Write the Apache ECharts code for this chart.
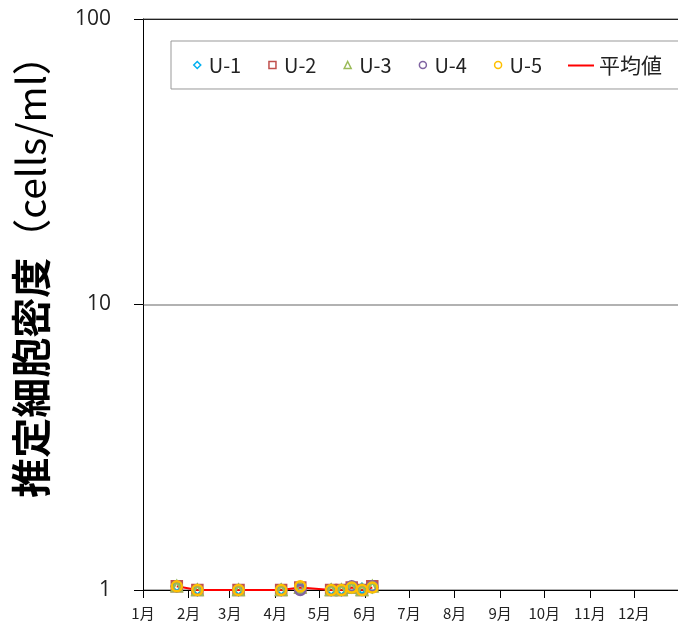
<!DOCTYPE html>
<html>
<head>
<meta charset="utf-8">
<script src="https://cdn.jsdelivr.net/npm/echarts@6/dist/echarts.min.js"></script>
<style>html,body{margin:0;padding:0;background:#fff;}#c{width:678px;height:625px;}</style>
</head>
<body>
<div id="c"></div>
<script>
const dates = ['2023-01-24','2023-02-07','2023-03-07','2023-04-05','2023-04-18','2023-05-09','2023-05-16','2023-05-23','2023-05-30','2023-06-06'];
const u1 = [1.03, 1.0, 1.0, 1.0, 1.02, 1.0, 1.0, 1.02, 1.01, 1.02];
const u2 = [1.03, 1.0, 1.0, 1.0, 1.02, 1.0, 1.0, 1.02, 1.0, 1.03];
const u3 = [1.03, 1.0, 1.0, 1.0, 1.02, 1.0, 1.0, 1.02, 1.0, 1.03];
const u4 = [1.03, 1.0, 1.0, 1.0, 1.0, 1.0, 1.0, 1.03, 1.0, 1.03];
const u5 = [1.03, 1.0, 1.0, 1.0, 1.03, 1.0, 1.0, 1.02, 1.0, 1.02];
const mean = [1.03, 1.0, 1.0, 1.0, 1.02, 1.0, 1.0, 1.02, 1.0, 1.02];
const names = ['U-1','U-2','U-3','U-4','U-5','平均値'];
const colors = ['#00B0F0','#C0504D','#9BBB59','#8064A2','#FFC000','#FF0000'];
const symbols = ['diamond','rect','triangle','circle','circle'];
const yTitleMain = '推定細胞密度';
const yTitleUnit = '（cells/ml）';

const pair = arr => dates.map((d,i)=>[d, arr[i]]);
const uData = [u1,u2,u3,u4,u5];
const font = '"Noto Sans CJK JP", "Noto Sans", sans-serif';
const numFont = '"Open Sans", "Noto Sans", sans-serif';

const series = uData.map((arr,i)=>({
  name: names[i], type: 'scatter', data: pair(arr),
  symbol: symbols[i], symbolSize: 10, z: 3,
  itemStyle: {color: 'rgba(255,255,255,0)', borderColor: colors[i], borderWidth: 2.5, opacity: 1}
}));
series.push({
  name: names[5], type: 'line', data: pair(mean), symbol: 'none', z: 2,
  lineStyle: {color: colors[5], width: 2}, itemStyle: {color: colors[5]}
});

const legendText = {fontSize: 20, color: '#222', fontFamily: font, padding: [0, 0, 0, 3]};
const chart = echarts.init(document.getElementById('c'));
chart.setOption({
  animation: false,
  textStyle: {fontFamily: font},
  grid: {left: 143, right: -6, top: 19, bottom: 35},
  legend: [{
    left: 171, top: 41, width: 440,
    data: names.slice(0,5),
    itemWidth: 7, itemHeight: 7, itemGap: 27,
    itemStyle: {borderWidth: 1.5},
    borderColor: '#999', borderWidth: 1,
    padding: [14, 140, 14, 22],
    textStyle: legendText
  },{
    left: 568, top: 41,
    data: [{name: names[5], icon: 'rect'}],
    itemWidth: 26, itemHeight: 2,
    padding: [14, 0, 14, 0],
    textStyle: {fontSize: 21, color: '#222', fontFamily: font}
  }],
  xAxis: [{
    type: 'time',
    min: '2023-01-01', max: '2023-12-31',
    splitNumber: 12,
    minInterval: 28*86400000, maxInterval: 31*86400000,
    axisLine: {lineStyle: {color: '#000', width: 1}},
    axisTick: {show: true, length: 8, lineStyle: {color: '#000'}},
    splitLine: {show: false},
    axisLabel: {
      fontSize: 15, color: '#222', margin: 16, fontFamily: font,
      formatter: v => (new Date(v).getMonth()+1) + '月'
    }
  },{
    type: 'time', position: 'top',
    min: '2023-01-01', max: '2023-12-31',
    axisLine: {show: true, lineStyle: {color: '#222'}},
    axisTick: {show: false}, axisLabel: {show: false}, splitLine: {show: false}
  }],
  yAxis: {
    type: 'log', logBase: 10, min: 1, max: 100,
    name: '{a|' + yTitleMain + '}{b|' + yTitleUnit + '}',
    nameLocation: 'middle', nameGap: 92, nameRotate: 90,
    nameTextStyle: {
      fontSize: 40, color: '#000', fontFamily: font,
      rich: {
        a: {fontSize: 40, fontWeight: 'bold', color: '#000', fontFamily: font, padding: [0, 0, 0, 75]},
        b: {fontSize: 39, color: '#000', fontFamily: font}
      }
    },
    axisLine: {show: true, lineStyle: {color: '#000'}},
    axisTick: {show: true, length: 9, lineStyle: {color: '#000'}},
    minorTick: {show: false},
    splitLine: {show: true, lineStyle: {color: '#999', width: 1.5}},
    axisLabel: {fontSize: 21, color: '#222', margin: 32, fontFamily: numFont}
  },
  series: series
});
</script>
</body>
</html>
